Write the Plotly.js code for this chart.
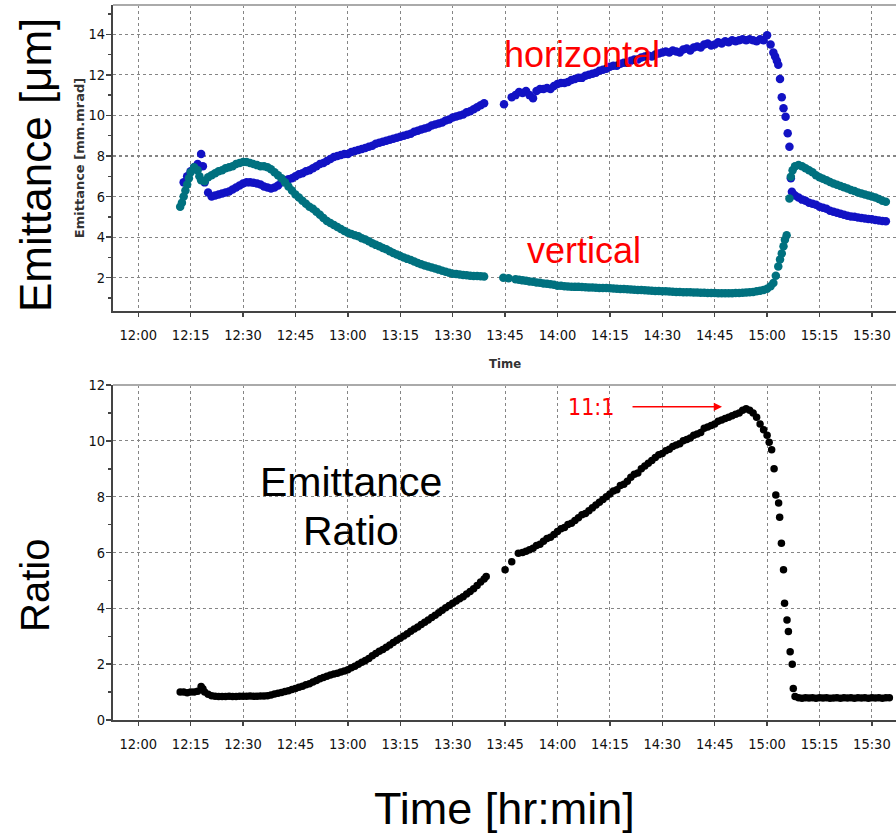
<!DOCTYPE html>
<html>
<head>
<meta charset="utf-8">
<script src="https://cdn.plot.ly/plotly-3.0.1.min.js"></script>
<style>
  html, body { margin: 0; padding: 0; background: #ffffff; }
  #chart { width: 896px; height: 839px; }
</style>
</head>
<body>
<div id="chart"></div>
<script>
// Beam emittance logging run: minutes after 12:00 and measured values.

// Horizontal emittance [mm.mrad]
const horizMinutes = [
  13,14,15,16,17,18,18.5,19,20,21,22,23,24,25,26,27,28,29,30,31,32,33,34,35,36,37,38,39,40,
  41,42,43,44,45,46,47,48,49,50,51,52,53,54,55,56,57,58,59,60,61,62,63,64,65,66,67,68,69,70,
  71,72,73,74,75,76,77,78,79,80,81,82,83,84,85,86,87,88,89,90,91,92,93,94,95,96,97,98,99,
  104.7,106.9,
  108,109,110,111,112,113,114,115,116,117,118,119,120,121,122,123,124,125,126,127,128,129,130,
  131,132,133,134,135,136,137,138,139,140,141,142,143,144,145,146,147,148,149,150,151,152,153,
  154,155,156,157,158,159,160,161,162,163,164,165,166,167,168,169,170,171,172,173,174,175,176,
  177,178,179,180,181,
  181.8,182.3,182.8,183.2,183.7,184.2,184.7,185.3,185.9,186.4,186.8,187.1,
  187.5,188,189,190,191,192,193,194,195,196,197,198,199,200,201,202,203,204,205,206,207,208,
  209,210,211,212,213,214
];
const horizValues = [
  6.7,7.0,7.25,7.45,7.6,8.1,7.5,6.7,6.2,6.0,6.05,6.1,6.15,6.2,6.25,6.35,6.45,6.55,6.65,6.7,6.7,6.68,6.65,6.6,6.5,6.45,6.4,6.45,6.55,
  6.7,6.8,6.85,6.9,7.0,7.1,7.15,7.25,7.3,7.4,7.5,7.6,7.65,7.75,7.85,7.95,8.0,8.05,8.1,8.1,8.2,8.25,8.3,8.35,8.4,8.45,8.5,8.6,8.65,8.7,
  8.75,8.8,8.85,8.9,8.95,9.0,9.05,9.1,9.2,9.25,9.3,9.35,9.4,9.5,9.55,9.6,9.65,9.75,9.8,9.9,9.95,10.0,10.05,10.15,10.2,10.3,10.4,10.5,10.6,
  10.55,10.9,
  11.0,11.15,11.1,11.2,11.0,10.85,11.2,11.3,11.3,11.35,11.3,11.45,11.55,11.6,11.6,11.65,11.75,11.8,11.85,11.85,11.95,12.0,12.05,
  12.1,12.2,12.25,12.3,12.4,12.45,12.45,12.55,12.6,12.6,12.7,12.75,12.75,12.85,12.9,12.95,12.9,13.0,13.05,13.1,13.15,13.1,13.2,
  13.15,13.1,13.25,13.3,13.2,13.35,13.4,13.35,13.5,13.55,13.45,13.5,13.6,13.55,13.65,13.6,13.7,13.65,13.7,13.75,13.7,13.75,13.7,
  13.65,13.75,13.7,13.95,13.5,
  13.1,12.9,12.7,12.5,11.8,10.9,10.35,9.93,9.12,8.46,6.9,6.24,
  6.1,6.05,5.95,5.85,5.8,5.7,5.65,5.6,5.5,5.45,5.4,5.3,5.25,5.2,5.15,5.1,5.05,5.02,5.0,4.97,4.95,4.92,
  4.9,4.88,4.85,4.82,4.8,4.78
];

// Vertical emittance [mm.mrad]
const vertMinutes = [
  12,12.5,13,13.5,14,14.5,15,16,17,17.5,18,19,20,21,22,23,24,25,26,27,28,29,30,31,32,33,34,35,36,37,38,39,40,
  41,42,43,44,45,46,47,48,49,50,51,52,53,54,55,56,57,58,59,60,61,62,63,64,65,66,67,68,69,70,
  71,72,73,74,75,76,77,78,79,80,81,82,83,84,85,86,87,88,89,90,91,92,93,94,95,96,97,98,99,
  104.5,106,
  108,109,110,111,112,113,114,115,116,117,118,119,120,121,122,123,124,125,126,127,128,129,130,
  131,132,133,134,135,136,137,138,139,140,141,142,143,144,145,146,147,148,149,150,151,152,153,
  154,155,156,157,158,159,160,161,162,163,164,165,166,167,168,169,170,171,172,173,174,175,176,
  177,178,179,180,181,
  181.8,182.5,183.2,183.7,184.2,184.7,185.1,185.6,
  186.4,
  186.8,187.3,188,189,190,191,192,193,194,195,196,197,198,199,200,201,202,203,204,205,206,207,
  208,209,210,211,212,213,214
];
const vertValues = [
  5.5,5.7,6.0,6.3,6.6,6.9,7.2,7.45,7.3,7.0,6.8,6.75,6.95,7.05,7.15,7.25,7.3,7.4,7.45,7.5,7.6,7.65,7.7,7.7,7.65,7.6,7.55,7.5,7.5,7.45,7.35,7.2,7.05,
  6.9,6.7,6.5,6.3,6.1,5.95,5.8,5.65,5.5,5.4,5.25,5.1,4.95,4.8,4.7,4.6,4.5,4.4,4.3,4.22,4.15,4.1,4.05,3.95,3.88,3.8,3.7,3.62,3.55,3.47,
  3.4,3.3,3.22,3.15,3.07,3.0,2.93,2.87,2.8,2.73,2.67,2.6,2.55,2.5,2.45,2.4,2.35,2.3,2.25,2.2,2.18,2.16,2.14,2.12,2.1,2.09,2.08,2.07,2.06,
  2.0,1.97,
  1.92,1.9,1.87,1.85,1.82,1.8,1.77,1.75,1.72,1.7,1.68,1.65,1.6,1.6,1.58,1.57,1.56,1.55,1.55,1.54,1.53,1.52,1.52,
  1.51,1.5,1.5,1.49,1.48,1.47,1.46,1.45,1.44,1.43,1.42,1.41,1.4,1.4,1.38,1.37,1.36,1.35,1.35,1.34,1.33,1.32,1.31,
  1.3,1.3,1.29,1.28,1.28,1.27,1.27,1.26,1.26,1.25,1.25,1.25,1.24,1.24,1.24,1.24,1.24,1.25,1.25,1.26,1.27,1.28,1.3,
  1.33,1.36,1.4,1.46,1.58,
  1.74,2.1,2.55,2.9,3.2,3.55,3.87,4.1,
  5.9,
  6.98,7.3,7.5,7.56,7.5,7.4,7.3,7.2,7.05,6.95,6.88,6.8,6.72,6.65,6.58,6.52,6.46,6.4,6.33,6.27,6.2,6.15,
  6.1,6.05,6.0,5.95,5.88,5.8,5.75
];

// Horizontal / vertical emittance ratio
const ratioMinutes = [
  12,13,14,15,16,17,18,18.5,19,20,21,22,23,24,25,26,27,28,29,30,31,32,33,34,35,36,37,38,39,40,
  41,42,43,44,45,46,47,48,49,50,51,52,53,54,55,56,57,58,59,60,61,62,63,64,65,66,67,68,69,70,
  71,72,73,74,75,76,77,78,79,80,81,82,83,84,85,86,87,88,89,90,91,92,93,94,95,96,97,98,99,99.6,
  105,106.9,
  108.8,110,111,112,113,114,115,116,117,118,119,120,121,122,123,124,125,126,127,128,129,130,
  131,132,133,134,135,136,137,138,139,140,141,142,143,144,145,146,147,148,149,150,151,152,153,
  154,155,156,157,158,159,160,161,162,163,164,165,166,167,168,169,170,171,172,173,174,175,176,
  177,178,179,180,
  180.6,181.3,182,182.5,183.3,183.6,184.1,184.7,185,185.7,186.1,186.6,187.2,187.5,188,
  189,190,191,192,193,194,195,196,197,198,199,200,201,202,203,204,205,206,207,208,209,210,
  211,212,213,214,215
];
const ratioValues = [
  1.0,1.0,0.98,1.0,1.0,1.03,1.2,1.12,1.0,0.92,0.87,0.85,0.84,0.84,0.84,0.85,0.84,0.84,0.85,0.85,0.85,0.86,0.85,0.85,0.86,0.86,0.87,0.9,0.93,0.96,
  0.99,1.02,1.05,1.09,1.13,1.17,1.21,1.26,1.3,1.36,1.42,1.48,1.52,1.57,1.61,1.65,1.68,1.72,1.76,1.8,1.87,1.93,2.0,2.07,2.13,2.2,2.3,2.38,2.46,2.53,
  2.61,2.69,2.78,2.86,2.93,3.01,3.09,3.18,3.26,3.33,3.42,3.5,3.58,3.67,3.75,3.84,3.93,4.02,4.1,4.18,4.26,4.34,4.42,4.51,4.6,4.7,4.82,4.94,5.05,5.14,
  5.38,5.67,
  5.97,6.0,6.05,6.1,6.15,6.25,6.3,6.4,6.5,6.55,6.65,6.75,6.85,6.9,7.0,7.05,7.15,7.25,7.35,7.4,7.5,7.6,
  7.7,7.8,7.9,8.0,8.1,8.2,8.25,8.4,8.45,8.55,8.7,8.8,8.85,9.0,9.1,9.2,9.3,9.4,9.5,9.55,9.65,9.7,9.8,
  9.85,9.9,10.0,10.05,10.1,10.2,10.25,10.3,10.45,10.5,10.55,10.6,10.7,10.75,10.8,10.85,10.9,10.95,11.0,11.1,11.15,11.1,11.0,
  10.85,10.6,10.4,10.2,
  9.95,9.68,9.0,8.06,7.77,7.26,6.33,5.38,4.18,3.58,3.17,2.45,2.0,1.13,0.84,
  0.8,0.78,0.8,0.79,0.8,0.78,0.8,0.79,0.8,0.78,0.79,0.8,0.78,0.8,0.79,0.8,0.78,0.8,0.79,0.8,0.78,0.8,
  0.79,0.8,0.78,0.8,0.8
];

// Axis ticks
const timeTickLabels = ['12:00','12:15','12:30','12:45','13:00','13:15','13:30','13:45',
                        '14:00','14:15','14:30','14:45','15:00','15:15','15:30'];
const emittanceTicks = [2, 4, 6, 8, 10, 12, 14];
const ratioTicks = [0, 2, 4, 6, 8, 10, 12];

const DAY = '2014-01-01';
const pad = n => String(n).padStart(2, '0');
// minutes after 12:00 -> date string on the plotting day
function stamp(minutes) {
  const s = Math.round((12 * 60 + minutes) * 60);
  return DAY + ' ' + pad(Math.floor(s / 3600)) + ':' + pad(Math.floor((s % 3600) / 60)) + ':' + pad(s % 60);
}
const tickStamps = timeTickLabels.map(t => DAY + ' ' + t);
const timeRange = [stamp(-7.24), stamp(216.9)];

const TICK_FONT = { family: "'Liberation Sans Narrow', 'DejaVu Sans Condensed', 'Arial Narrow', sans-serif", size: 14.5, color: '#111' };
const SLIDE_FONT = "'Liberation Sans', Arial, sans-serif";
const GRID = { showgrid: true, gridcolor: '#858585', griddash: 'dot', gridwidth: 1.1 };

function timeAxis(anchor) {
  return Object.assign({
    type: 'date', anchor: anchor, domain: [0.1261, 1], range: timeRange,
    tickmode: 'array', tickvals: tickStamps, ticktext: timeTickLabels,
    ticks: 'outside', ticklen: 4, tickwidth: 1.5, tickcolor: '#444',
    ticklabelstandoff: 6,
    showline: true, linecolor: '#444', linewidth: 2, zeroline: false,
    tickfont: TICK_FONT, fixedrange: true
  }, GRID);
}
function valueAxis(anchor, domain, range, ticks) {
  return Object.assign({
    anchor: anchor, domain: domain, range: range,
    tickmode: 'array', tickvals: ticks, ticktext: ticks.map(String),
    ticks: 'outside', ticklen: 5, tickwidth: 1.5, tickcolor: '#444',
    ticklabelstandoff: -2,
    minor: { dtick: 1, tick0: 1, ticks: 'outside', ticklen: 3, tickcolor: '#444', showgrid: false },
    showline: true, linecolor: '#444', linewidth: 2, zeroline: false,
    tickfont: TICK_FONT, fixedrange: true
  }, GRID);
}

const traces = [
  {
    x: horizMinutes.map(stamp), y: horizValues, xaxis: 'x', yaxis: 'y',
    type: 'scatter', mode: 'markers', name: 'horizontal',
    marker: { color: '#1212c4', size: 8.5 }
  },
  {
    x: vertMinutes.map(stamp), y: vertValues, xaxis: 'x', yaxis: 'y',
    type: 'scatter', mode: 'markers', name: 'vertical',
    marker: { color: '#00717f', size: 8.5 }
  },
  {
    x: ratioMinutes.map(stamp), y: ratioValues, xaxis: 'x2', yaxis: 'y2',
    type: 'scatter', mode: 'markers', name: 'ratio',
    marker: { color: '#000000', size: 7.5 }
  }
];

function label(text, x, y, font, extra) {
  return Object.assign({ text: text, xref: 'paper', yref: 'paper', x: x, y: y,
    xanchor: 'center', yanchor: 'middle', showarrow: false, font: font }, extra || {});
}

const layout = {
  width: 896, height: 839,
  margin: { l: 0, r: 0, t: 0, b: 0 },
  paper_bgcolor: '#ffffff', plot_bgcolor: '#ffffff',
  showlegend: false,
  xaxis: timeAxis('y'),
  yaxis: valueAxis('x', [0.6293, 0.994], [0.36, 15.44], emittanceTicks),
  xaxis2: timeAxis('y2'),
  yaxis2: valueAxis('x2', [0.1418, 0.5411], [0, 12], ratioTicks),
  shapes: [
    // frame tops
    { type: 'line', xref: 'x domain', yref: 'y domain', x0: 0, x1: 1, y0: 1, y1: 1,
      line: { color: '#aaaaaa', width: 2 } },
    { type: 'line', xref: 'x2 domain', yref: 'y2 domain', x0: 0, x1: 1, y0: 1, y1: 1,
      line: { color: '#aaaaaa', width: 2 } },
    // white label panels laid over the grid
    { type: 'rect', xref: 'x2', yref: 'y2', layer: 'below',
      x0: stamp(21.1), x1: stamp(100.1), y0: 7.99, y1: 9.93,
      fillcolor: '#ffffff', line: { width: 0 } },
    { type: 'rect', xref: 'x', yref: 'y', layer: 'below',
      x0: stamp(97.8), x1: stamp(133.6), y0: 13.6, y1: 14.5,
      fillcolor: '#ffffff', line: { width: 0 } }
  ],
  annotations: [
    label('Emittance [mm.mrad]', 0.0895, 0.8117,
      { family: "'DejaVu Sans', sans-serif", size: 13, color: '#333', weight: 'bold' }, { textangle: -90 }),
    label('Time', 0.5636, 0.5673,
      { family: "'Liberation Sans Narrow', 'DejaVu Sans Condensed', sans-serif", size: 13, color: '#333', weight: 'bold' }),
    label('Emittance [μm]', 0.039, 0.8033, { family: SLIDE_FONT, size: 44, color: '#000' }, { textangle: -90 }),
    label('Ratio', 0.039, 0.3027, { family: SLIDE_FONT, size: 40, color: '#000' }, { textangle: -90 }),
    label('Time [hr:min]', 0.5636, 0.0358, { family: SLIDE_FONT, size: 45, color: '#000' }),
    label('horizontal', 0.6492, 0.9353, { family: SLIDE_FONT, size: 36, color: '#ff0000' }),
    label('vertical', 0.6518, 0.7016, { family: SLIDE_FONT, size: 36, color: '#ff0000' }),
    label('Emittance', 0.3917, 0.426, { family: SLIDE_FONT, size: 41, color: '#000' }),
    label('Ratio', 0.3917, 0.3676, { family: SLIDE_FONT, size: 41, color: '#000' }),
    { text: '11:1', xref: 'x2', yref: 'y2', x: stamp(167.1), y: 11.22,
      ax: -131, ay: 0, showarrow: true, arrowhead: 2, arrowsize: 1.1, arrowwidth: 1.5,
      arrowcolor: '#ff0000', borderpad: 18,
      font: { family: "'Liberation Sans Narrow', 'DejaVu Sans Condensed', sans-serif", size: 23, color: '#ff0000' } }
  ]
};

Plotly.newPlot('chart', traces, layout, { displayModeBar: false, staticPlot: true });
</script>
</body>
</html>
